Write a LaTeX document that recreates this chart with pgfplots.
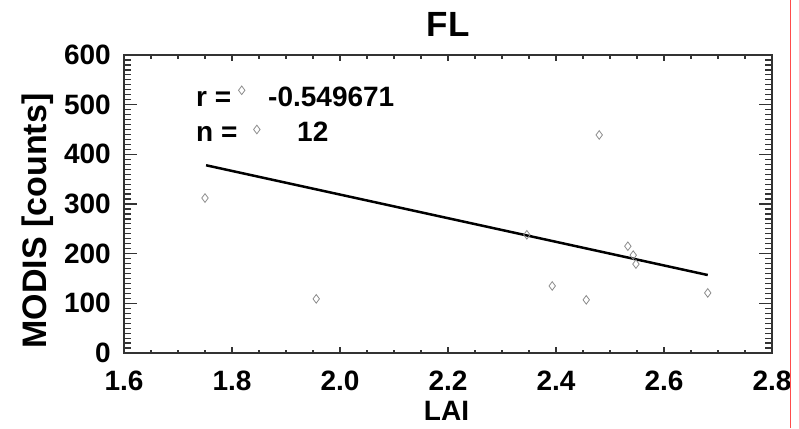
\documentclass[border=0pt]{standalone}
\usepackage{fontspec}
\setmainfont{Liberation Sans}
\usepackage{pgfplots}
\pgfplotsset{compat=1.18}
\pgfplotsset{common/.style={
  scale only axis, width=648pt, height=298pt,
  at={(0pt,0pt)}, anchor=south west,
  xmin=1.6, xmax=2.8, ymin=0, ymax=600,
  tick align=inside, xtick pos=both, ytick pos=both,
  axis line style={line width=1.6pt, black!80},
  every tick/.style={black!80, line width=1.2pt},
  /pgf/number format/assume math mode=true,
  clip=false}}
\begin{document}
\begin{tikzpicture}
\useasboundingbox (-124pt,-75pt) rectangle (675pt,353pt);
\begin{axis}[common,
  xtick={1.6,1.8,...,2.8}, ytick=\empty, minor x tick num=3,
  major tick length=6pt, minor tick length=3.5pt,
  xticklabel={\pgfmathprintnumber[fixed,fixed zerofill,precision=1]{\tick}},
  xticklabel style={font=\fontsize{28}{30}\selectfont\bfseries, anchor=base, yshift=-37pt, inner sep=0pt},
]
\end{axis}
\begin{axis}[common,
  xtick=\empty, ytick={0,100,...,600}, minor y tick num=9,
  major tick length=13pt, minor tick length=7pt,
  yticklabel style={font=\fontsize{28}{30}\selectfont\bfseries, anchor=east, xshift=-13pt, inner sep=0pt},
]
\addplot[only marks, mark=diamond, mark size=4.3pt, mark options={draw=black!45, line width=0.8pt, fill=none}] coordinates {
  (1.750,312) (1.818,529) (1.846,450) (1.956,109) (2.480,439) (2.346,238)
  (2.393,135) (2.456,107) (2.533,215) (2.543,197) (2.548,179) (2.681,121)
};
\addplot[black, line width=2.5pt] coordinates {(1.752,378) (2.681,157)};
\end{axis}
\node[anchor=base, font=\fontsize{35}{38}\selectfont\bfseries] at (324pt,316pt) {FL};
\node[anchor=base, font=\fontsize{28}{30}\selectfont\bfseries] at (322.5pt,-67pt) {LAI};
\node[anchor=base, rotate=90, font=\fontsize{34}{36}\selectfont\bfseries] at (-77pt,132pt) {MODIS [counts]};
\node[anchor=base west, inner sep=0pt, font=\fontsize{28}{30}\selectfont\bfseries] at (72pt,246pt) {r =};
\node[anchor=base west, inner sep=0pt, font=\fontsize{28}{30}\selectfont\bfseries] at (144pt,246pt) {-0.549671};
\node[anchor=base west, inner sep=0pt, font=\fontsize{28}{30}\selectfont\bfseries] at (72pt,211pt) {n =};
\node[anchor=base west, inner sep=0pt, font=\fontsize{28}{30}\selectfont\bfseries] at (173pt,211pt) {12};
\draw[red!70, line width=0.9pt] (666pt,-75pt) -- (666pt,353pt);
\end{tikzpicture}
\end{document}
